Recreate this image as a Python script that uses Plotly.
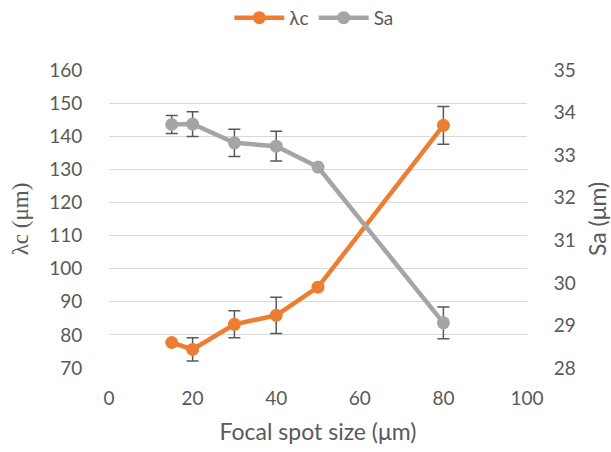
import plotly.graph_objects as go

focal_spot = [15, 20, 30, 40, 50, 80]
lambda_c = [77.7, 75.6, 83.2, 85.9, 94.4, 143.3]
lambda_c_err = [0, 3.5, 4.1, 5.5, 0, 5.7]
sa = [33.72, 33.73, 33.29, 33.21, 32.72, 29.06]
sa_err = [0.21, 0.29, 0.32, 0.35, 0, 0.37]

orange = "#ED7D31"
gray = "#A5A5A5"
txt = "#595959"
font = "Lato, 'Open Sans', sans-serif"

fig = go.Figure()
fig.add_trace(go.Scatter(
    x=focal_spot, y=lambda_c, name="λc", mode="lines+markers",
    line=dict(color=orange, width=4.5), marker=dict(color=orange, size=13),
    error_y=dict(type="data", array=lambda_c_err, visible=True, color=txt, thickness=1.5, width=6),
    yaxis="y"))
fig.add_trace(go.Scatter(
    x=focal_spot, y=sa, name="Sa", mode="lines+markers",
    line=dict(color=gray, width=4.5), marker=dict(color=gray, size=13),
    error_y=dict(type="data", array=sa_err, visible=True, color=txt, thickness=1.5, width=6),
    yaxis="y2"))

fig.update_layout(
    width=611, height=452,
    margin=dict(l=109, r=84, t=70, b=84, autoexpand=False),
    paper_bgcolor="white", plot_bgcolor="white",
    font=dict(family=font, color=txt, size=19),
    showlegend=True,
    legend=dict(orientation="h", x=0.49, xanchor="center", y=1.175, yanchor="middle",
                font=dict(size=19, color=txt), itemwidth=50, traceorder="normal"),
    xaxis=dict(range=[0, 100], tickvals=[0, 20, 40, 60, 80, 100], showgrid=False, zeroline=False,
               showline=False, ticks="outside", ticklen=13, tickcolor="rgba(0,0,0,0)",
               tickfont=dict(size=19, color=txt),
               title=dict(text="Focal spot size (μm)", font=dict(size=23, color=txt), standoff=16)),
    yaxis=dict(range=[70, 160], dtick=10, showgrid=True, gridcolor="#D9D9D9", gridwidth=1.3,
               zeroline=False, showline=False, ticks="outside", ticklen=22, tickcolor="rgba(0,0,0,0)",
               tickfont=dict(size=19, color=txt),
               title=dict(text="λc (μm)", font=dict(size=23, color=txt,
                          family="Liberation Serif, Times New Roman, DejaVu Serif, serif"), standoff=14)),
    yaxis2=dict(range=[28, 35], dtick=1, overlaying="y", side="right", showgrid=False,
                zeroline=False, showline=False, ticks="outside", ticklen=22, tickcolor="rgba(0,0,0,0)",
                tickfont=dict(size=19, color=txt),
                title=dict(text="Sa (μm)", font=dict(size=23, color=txt), standoff=16)),
)

fig.write_html("out.html")
